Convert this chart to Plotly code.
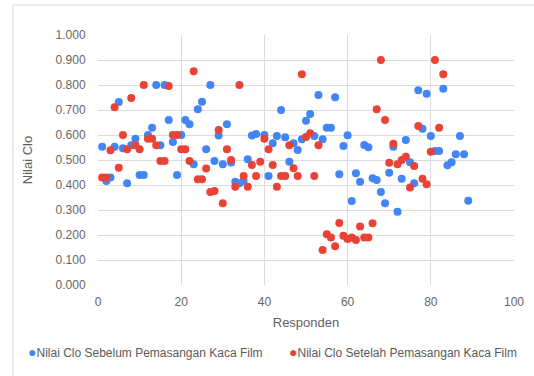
import plotly.graph_objects as go

# Responden numbers for each series
responden_sebelum = list(range(1, 39)) + list(range(40, 90))
responden_setelah = list(range(1, 84))

# Clo values before installing window film (blue)
clo_sebelum = [
    0.553, 0.416, 0.430, 0.553, 0.732, 0.547, 0.407, 0.559, 0.585, 0.440,
    0.440, 0.600, 0.629, 0.800, 0.559, 0.800, 0.660, 0.572, 0.440, 0.600,
    0.660, 0.643, 0.483, 0.703, 0.733, 0.543, 0.800, 0.496, 0.598, 0.483,
    0.643, 0.490, 0.413, 0.407, 0.417, 0.503, 0.598, 0.604,
    0.600, 0.436, 0.567, 0.596, 0.700, 0.591, 0.493, 0.567, 0.540, 0.583,
    0.657, 0.684, 0.596, 0.760, 0.583, 0.629, 0.629, 0.751, 0.443, 0.556,
    0.599, 0.336, 0.447, 0.413, 0.560, 0.551, 0.427, 0.420, 0.372, 0.327,
    0.449, 0.553, 0.293, 0.425, 0.580, 0.491, 0.407, 0.779, 0.625, 0.765,
    0.596, 0.536, 0.536, 0.785, 0.479, 0.491, 0.523, 0.596, 0.523, 0.337,
]

# Clo values after installing window film (red)
clo_setelah = [
    0.430, 0.430, 0.539, 0.711, 0.469, 0.600, 0.543, 0.748, 0.559, 0.543,
    0.800, 0.585, 0.585, 0.559, 0.496, 0.496, 0.796, 0.600, 0.600, 0.543,
    0.543, 0.496, 0.855, 0.423, 0.423, 0.466, 0.372, 0.376, 0.620, 0.327,
    0.543, 0.500, 0.393, 0.800, 0.436, 0.393, 0.480, 0.436, 0.493, 0.585,
    0.543, 0.480, 0.393, 0.436, 0.436, 0.559, 0.467, 0.436, 0.843, 0.592,
    0.607, 0.436, 0.559, 0.140, 0.203, 0.190, 0.155, 0.248, 0.197, 0.184,
    0.190, 0.180, 0.234, 0.190, 0.190, 0.247, 0.703, 0.900, 0.660, 0.489,
    0.565, 0.483, 0.500, 0.513, 0.390, 0.476, 0.636, 0.425, 0.403, 0.533,
    0.900, 0.629, 0.843,
]

label_sebelum = "Nilai Clo Sebelum Pemasangan Kaca Film"
label_setelah = "Nilai Clo Setelah Pemasangan Kaca Film"
x_title = "Responden"
y_title = "Nilai Clo"

BLUE = "#4285F4"
RED = "#EA4335"
FONT = "Liberation Sans, Arial, sans-serif"
GRID = "#dcdcdc"
LEGEND_TEXT = "#5a5a5a"

fig = go.Figure()
fig.add_trace(go.Scatter(
    x=responden_sebelum, y=clo_sebelum, mode="markers", name=label_sebelum,
    marker=dict(color=BLUE, size=8, line=dict(width=0)),
))
fig.add_trace(go.Scatter(
    x=responden_setelah, y=clo_setelah, mode="markers", name=label_setelah,
    marker=dict(color=RED, size=8, line=dict(width=0)),
))

# outer chart frame
fig.add_shape(
    type="rect", xref="paper", yref="paper",
    x0=-0.2043, x1=1.3, y0=-0.6, y1=1.12,
    line=dict(color="#d6d6d6", width=1), fillcolor="rgba(0,0,0,0)",
    layer="below",
)

# compact single-row legend below the axis title
def legend_entry(x, color, label):
    fig.add_annotation(
        xref="paper", yref="paper", x=x, y=-0.268,
        xanchor="left", yanchor="middle", showarrow=False,
        text=f'<span style="color:{color};font-size:14px">●</span>{label}',
        font=dict(family=FONT, size=12, color=LEGEND_TEXT),
    )

legend_entry(-0.172, BLUE, label_sebelum)
legend_entry(0.455, RED, label_setelah)

fig.update_layout(
    width=534, height=376,
    margin=dict(l=98, r=20, t=35, b=91, autoexpand=False),
    paper_bgcolor="white", plot_bgcolor="white",
    font=dict(family=FONT, size=12, color="#5f5f5f"),
    showlegend=False,
    xaxis=dict(
        range=[0, 100], dtick=20, tick0=0,
        showgrid=True, gridcolor=GRID, gridwidth=1,
        zeroline=False, showline=False,
        ticks="outside", ticklen=6, tickcolor="rgba(0,0,0,0)",
        tickfont=dict(size=12, color="#666666"),
        title=dict(text=x_title, font=dict(size=13, color="#5f5f5f"), standoff=9),
    ),
    yaxis=dict(
        range=[0, 1], dtick=0.1, tick0=0, tickformat=".3f",
        showgrid=True, gridcolor=GRID, gridwidth=1,
        zeroline=False, showline=False,
        ticks="outside", ticklen=9, tickcolor="rgba(0,0,0,0)",
        tickfont=dict(size=12, color="#666666"),
        title=dict(text=y_title, font=dict(size=13, color="#5f5f5f"), standoff=20),
    ),
)

fig.write_html("out.html")
